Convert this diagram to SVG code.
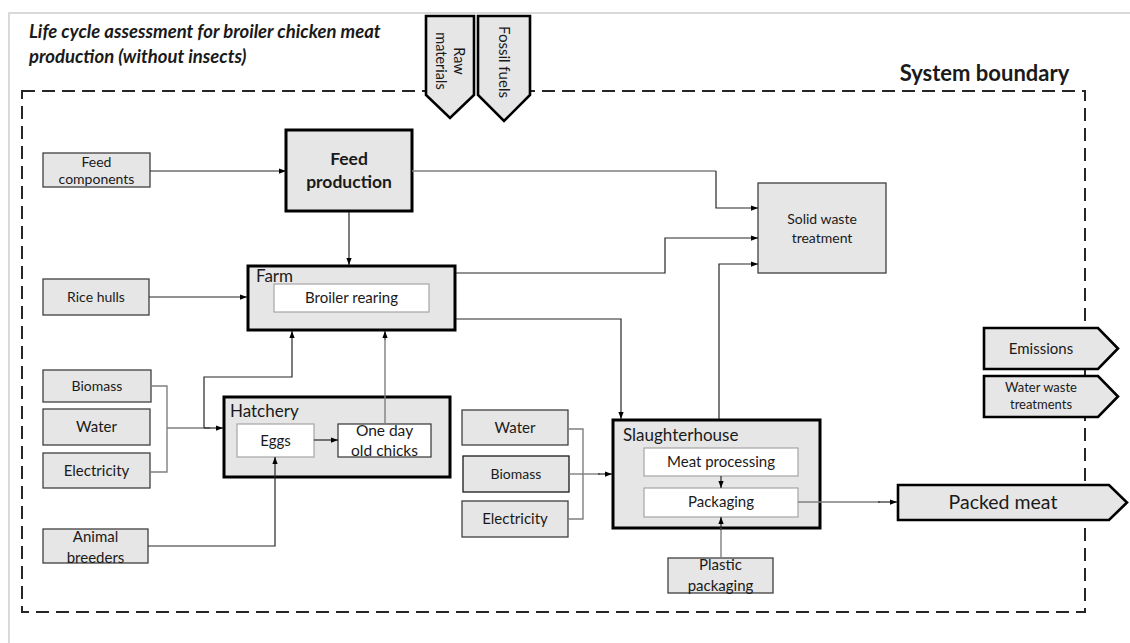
<svg xmlns="http://www.w3.org/2000/svg" width="1130" height="643" viewBox="0 0 1130 643">
<style>
text{font-family:Lato,"Liberation Sans",sans-serif;fill:#1a1a1a;text-anchor:middle;}
.in{fill:#e6e6e6;stroke:#404040;stroke-width:1.3;}
.proc{fill:#e6e6e6;stroke:#000;stroke-width:3;}
.sub{fill:#fff;stroke:#a6a6a6;stroke-width:1.2;}
.pent{fill:#e6e6e6;stroke:#000;stroke-width:2.6;stroke-linejoin:miter;}
.c{fill:none;stroke:#262626;stroke-width:1.2;}
.g{fill:none;stroke:#7f7f7f;stroke-width:1.4;}
.a{marker-end:url(#ah);}
.lbl{text-anchor:start;}
</style>
<defs>
<marker id="ah" viewBox="0 0 8 6" refX="8" refY="3" markerWidth="7" markerHeight="6" orient="auto" markerUnits="userSpaceOnUse"><path d="M0,0 L8,3 L0,6 z" fill="#000"/></marker>
</defs>
<rect width="1130" height="643" fill="#fff"/>
<path d="M9,643 V13 H1130" fill="none" stroke="#d9d9d9" stroke-width="2"/>
<g id="title">
<text x="29" y="38" class="lbl" font-size="18.5" font-weight="bold" font-style="italic">Life cycle assessment for broiler chicken meat</text>
<text x="29" y="63" class="lbl" font-size="18.5" font-weight="bold" font-style="italic">production (without insects)</text>
</g>
<g id="system-boundary">
<rect x="22" y="91" width="1063" height="521" fill="none" stroke="#262626" stroke-width="2" stroke-dasharray="13 7"/>
<text x="984.5" y="81" font-size="22" font-weight="bold">System boundary</text>
</g>
<g id="raw-materials">
<path class="pent" d="M426,16 H474 V95 L450,118 L426,95 Z"/>
<text transform="translate(458,61) rotate(90)" font-size="14.5" dy="4">Raw</text>
<text transform="translate(440,61) rotate(90)" font-size="14.5" dy="4">materials</text>
</g>
<g id="fossil-fuels">
<path class="pent" d="M478,16 H530 V95 L504,121 L478,95 Z"/>
<text transform="translate(504,62) rotate(90)" font-size="15" dy="5">Fossil fuels</text>
</g>
<g id="feed-components">
<rect class="in" x="43" y="153" width="107" height="34"/>
<text x="96.5" y="167" font-size="14">Feed</text>
<text x="96.5" y="184" font-size="14">components</text>
</g>
<g id="feed-production">
<rect class="proc" x="286" y="130" width="126" height="81"/>
<text x="349" y="165" font-size="17.5" font-weight="bold">Feed</text>
<text x="349" y="188" font-size="17.5" font-weight="bold">production</text>
</g>
<g id="solid-waste">
<rect class="in" x="758" y="183" width="128" height="90"/>
<text x="822" y="224" font-size="14">Solid waste</text>
<text x="822" y="243" font-size="14">treatment</text>
</g>
<g id="rice-hulls">
<rect class="in" x="43" y="279" width="106" height="36"/>
<text x="96" y="302" font-size="14">Rice hulls</text>
</g>
<g id="farm">
<rect class="proc" x="248" y="266" width="207" height="64"/>
<text x="256" y="282" class="lbl" font-size="17">Farm</text>
<rect class="sub" x="274" y="284" width="155" height="28"/>
<text x="351.5" y="303" font-size="15">Broiler rearing</text>
</g>
<g id="biomass-1">
<rect class="in" x="43" y="370" width="108" height="32"/>
<text x="97" y="391" font-size="14">Biomass</text>
</g>
<g id="water-1">
<rect class="in" x="43" y="409" width="107" height="36"/>
<text x="96.5" y="432" font-size="15">Water</text>
</g>
<g id="electricity-1">
<rect class="in" x="43" y="453" width="107" height="35"/>
<text x="96.5" y="476" font-size="15">Electricity</text>
</g>
<g id="hatchery">
<rect class="proc" x="224" y="397" width="226" height="80"/>
<text x="230" y="417" class="lbl" font-size="17">Hatchery</text>
<rect class="sub" x="237" y="424" width="77" height="33"/>
<text x="275.5" y="446" font-size="15">Eggs</text>
<rect x="338" y="424" width="93" height="33" fill="#fff" stroke="#333" stroke-width="1.2"/>
<text x="384.5" y="436" font-size="15.5">One day</text>
<text x="384.5" y="456" font-size="15.5">old chicks</text>
</g>
<g id="animal-breeders">
<rect class="in" x="43" y="529" width="105" height="34"/>
<text x="95.5" y="542" font-size="15">Animal</text>
<text x="95.5" y="563" font-size="15">breeders</text>
</g>
<g id="water-2">
<rect class="in" x="462" y="410" width="106" height="35"/>
<text x="515" y="433" font-size="15">Water</text>
</g>
<g id="biomass-2">
<rect class="in" x="463" y="456" width="106" height="36" style="stroke:#1a1a1a"/>
<text x="516" y="479" font-size="14">Biomass</text>
</g>
<g id="electricity-2">
<rect class="in" x="462" y="501" width="106" height="36"/>
<text x="515" y="524" font-size="15">Electricity</text>
</g>
<g id="slaughterhouse">
<rect class="proc" x="613" y="420" width="207" height="108"/>
<text x="623" y="441" class="lbl" font-size="17">Slaughterhouse</text>
<rect class="sub" x="644" y="448" width="154" height="28"/>
<text x="721" y="467" font-size="15">Meat processing</text>
<rect class="sub" x="644" y="488" width="154" height="29"/>
<text x="721" y="507" font-size="15">Packaging</text>
</g>
<g id="plastic-packaging">
<rect class="in" x="668" y="558" width="105" height="35"/>
<text x="720.5" y="570" font-size="15">Plastic</text>
<text x="720.5" y="591" font-size="15">packaging</text>
</g>
<g id="emissions">
<path class="pent" d="M984,328 H1098 L1118,348.5 L1098,369 H984 Z"/>
<text x="1041" y="354" font-size="15">Emissions</text>
</g>
<g id="water-waste">
<path class="pent" d="M984,376 H1098 L1118,396.5 L1098,417 H984 Z"/>
<text x="1041" y="392" font-size="13">Water waste</text>
<text x="1041" y="409" font-size="13">treatments</text>
</g>
<g id="packed-meat">
<path class="pent" d="M898,485 H1109 L1127,502.5 L1109,520 H898 Z"/>
<text x="1003" y="509" font-size="19.5">Packed meat</text>
</g>
<g id="connectors">
<path class="c a" d="M150,171 H286"/>
<path class="g" d="M412,171 H716"/>
<path class="c a" d="M716,171 V208 H758"/>
<path class="c a" d="M349,212 V265"/>
<path class="c a" d="M149,297 H247"/>
<path class="c a" d="M456,273 H665 V238 H758"/>
<path class="c a" d="M456,319 H621 V419"/>
<path class="c a" d="M719,419 V264 H758"/>
<path class="g" d="M151,386 H167 V472 H150"/>
<path class="g" d="M167,428 H210"/>
<path class="c a" d="M204,428 H223"/>
<path class="c a" d="M204,428 V377 H292 V331"/>
<path class="g" d="M385,424 V340"/>
<path class="c a" d="M385,340 V331"/>
<path class="c a" d="M314,440 H338"/>
<path class="c a" d="M148,546 H275 V457"/>
<path class="g" d="M568,429 H583 V519 H568"/>
<path class="g" d="M569,474 H600"/>
<path class="c a" d="M598,474 H612"/>
<path class="c a" d="M721,476 V488"/>
<path class="g" d="M721,558 V528"/>
<path class="c a" d="M721,530 V517"/>
<path class="g" d="M798,502 H880"/>
<path class="c a" d="M878,502 H897"/>
</g>
</svg>
